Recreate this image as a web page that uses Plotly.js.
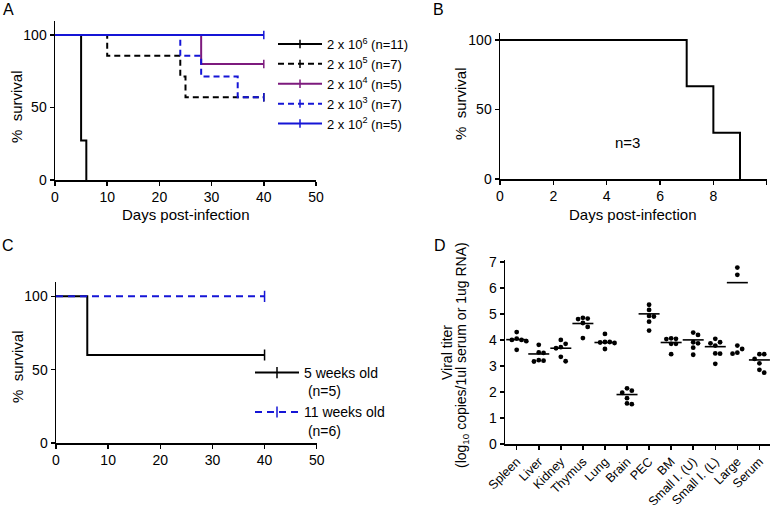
<!DOCTYPE html>
<html>
<head>
<meta charset="utf-8">
<script src="https://cdn.plot.ly/plotly-3.0.1.min.js"></script>
<style>
  html, body { margin: 0; padding: 0; background: #fff; }
  #chart { width: 774px; height: 505px; }
</style>
</head>
<body>
<div id="chart"></div>
<script>
// Data

// A - survival by infectious dose
const doseNames = [
  "2 x 10<sup>6</sup> (n=11)",
  "2 x 10<sup>5</sup> (n=7)",
  "2 x 10<sup>4</sup> (n=5)",
  "2 x 10<sup>3</sup> (n=7)",
  "2 x 10<sup>2</sup> (n=5)",
];
const doseDays = [
  [0, 5, 6],
  [0, 10, 24, 25, 40],
  [0, 28, 40],
  [0, 24, 28, 35, 40],
  [0, 40],
];
const doseSurvival = [
  [100, 27.3, 0],
  [100, 85.7, 71.4, 57.1, 57.1],
  [100, 80, 80],
  [100, 85.7, 71.4, 57.1, 57.1],
  [100, 100],
];
const doseCensorDays = [[], [40], [40], [40], [40]];
const doseCensorSurvival = [[], [57.1], [80], [57.1], [100]];

// B - single group
const daysB = [0, 7, 8, 9];
const survivalB = [100, 66.7, 33.3, 0];

// C - survival by age
const ageNames = ["5 weeks old<br>\u00a0(n=5)", "11 weeks old<br>\u00a0(n=6)"];
const ageDays = [
  [0, 6, 40],
  [0, 40],
];
const ageSurvival = [
  [100, 60, 60],
  [100, 100],
];
const ageCensorDays = [[40], [40]];
const ageCensorSurvival = [[60], [100]];

// D - viral titer per tissue
const tissues = [
  "Spleen", "Liver", "Kidney", "Thymus", "Lung", "Brain",
  "PEC", "BM", "Small I. (U)", "Small I. (L)", "Large", "Serum",
];
const titerValues = [
  [4.3, 4.05, 4.0, 3.95, 4.0, 3.62],
  [3.81, 3.52, 3.5, 3.2, 3.17, 3.22],
  [4.0, 3.85, 3.72, 3.68, 3.35, 3.18],
  [4.85, 4.8, 4.82, 4.65, 4.5, 4.07],
  [4.23, 3.92, 3.9, 3.92, 3.88, 3.65],
  [2.14, 2.05, 1.97, 1.76, 1.56, 1.53],
  [5.35, 5.15, 4.92, 4.9, 4.7, 4.36],
  [4.06, 4.04, 4.03, 3.85, 3.85, 3.45],
  [4.28, 4.19, 3.91, 3.87, 3.7, 3.43],
  [4.04, 3.91, 3.87, 3.78, 3.48, 3.47, 3.08],
  [6.78, 6.5, 3.78, 3.65, 3.51, 3.47],
  [3.45, 3.45, 3.27, 3.1, 2.85, 2.74],
];
const titerLines = [4.01, 3.46, 3.68, 4.63, 3.9, 1.9, 5.0, 3.9, 4.0, 3.74, 6.2, 3.23];

// Styles

const W = 774;
const H = 505;
const FONT = "Liberation Sans, Arial, sans-serif";
const BLUE = "#1515d6";
const PURPLE = "#7d1a7d";

const doseColors = ["#000", "#000", PURPLE, BLUE, BLUE];
const doseDashes = ["solid", "6px,4px", "solid", "6px,4px", "solid"];
const ageColors = ["#000", BLUE];
const ageDashes = ["solid", "7px,5px"];

// pixel -> paper helpers
const px = (x) => x / W;
const py = (y) => 1 - y / H;

const domD = { x: [px(505), px(770)], y: [py(444), py(260)] };
const rangeD = { x: [-0.53, 11.48], y: [0, 7.07] };

// Traces

const survivalTraces = function (names, days, surv, cDays, cSurv, colors, dashes, axes, legend, tickSize) {
  const traces = [];
  names.forEach((name, i) => {
    traces.push({
      x: days[i],
      y: surv[i],
      type: "scatter",
      mode: "lines",
      line: { shape: "hv", color: colors[i], width: 2, dash: dashes[i] },
      xaxis: axes[0],
      yaxis: axes[1],
      showlegend: false,
      hoverinfo: "skip",
    });
    // censor marks, also used as legend entry
    traces.push({
      x: cDays[i].length ? cDays[i] : [null],
      y: cSurv[i].length ? cSurv[i] : [null],
      type: "scatter",
      mode: "lines+markers",
      name: name,
      legend: legend,
      line: { color: colors[i], width: 2, dash: dashes[i] },
      marker: { symbol: "line-ns", size: tickSize, line: { width: 1.5, color: colors[i] } },
      xaxis: axes[0],
      yaxis: axes[1],
      hoverinfo: "skip",
    });
  });
  return traces;
};

// simple beeswarm so dots at similar values sit side by side
const swarmOffsets = function (values, pxPerX, pxPerY, diameter) {
  const order = values.map((v, i) => i).sort((a, b) => values[b] - values[a]);
  const placed = [];
  const offsets = new Array(values.length).fill(0);
  order.forEach((i) => {
    for (let k = 0; k < 40; k++) {
      const cand = (k % 2 ? 1 : -1) * Math.ceil(k / 2) * diameter;
      const hit = placed.some((p) => {
        const dx = cand - p.off;
        const dy = (values[i] - p.v) * pxPerY;
        return Math.hypot(dx, dy) < diameter;
      });
      if (!hit) {
        placed.push({ off: cand, v: values[i] });
        offsets[i] = cand / pxPerX;
        break;
      }
    }
  });
  return offsets;
};

const titerTraces = function () {
  const pxPerX = ((domD.x[1] - domD.x[0]) * W) / (rangeD.x[1] - rangeD.x[0]);
  const pxPerY = ((domD.y[1] - domD.y[0]) * H) / (rangeD.y[1] - rangeD.y[0]);
  const xs = [];
  const ys = [];
  tissues.forEach((t, i) => {
    const offs = swarmOffsets(titerValues[i], pxPerX, pxPerY, 4.8);
    titerValues[i].forEach((v, j) => {
      xs.push(i + offs[j]);
      ys.push(v);
    });
  });
  return [
    {
      x: xs,
      y: ys,
      type: "scatter",
      mode: "markers",
      marker: { color: "#000", size: 4.8 },
      xaxis: "x4",
      yaxis: "y4",
      showlegend: false,
      hoverinfo: "skip",
    },
    {
      x: tissues.map((t, i) => i),
      y: titerLines,
      type: "scatter",
      mode: "markers",
      marker: { symbol: "line-ew", size: 15, line: { width: 1.6, color: "#000" } },
      xaxis: "x4",
      yaxis: "y4",
      showlegend: false,
      hoverinfo: "skip",
    },
  ];
};

const data = [].concat(
  survivalTraces(doseNames, doseDays, doseSurvival, doseCensorDays, doseCensorSurvival,
    doseColors, doseDashes, ["x", "y"], "legend", 6),
  [
    {
      x: daysB,
      y: survivalB,
      type: "scatter",
      mode: "lines",
      line: { shape: "hv", color: "#000", width: 2 },
      xaxis: "x2",
      yaxis: "y2",
      showlegend: false,
      hoverinfo: "skip",
    },
  ],
  survivalTraces(ageNames, ageDays, ageSurvival, ageCensorDays, ageCensorSurvival,
    ageColors, ageDashes, ["x3", "y3"], "legend2", 8),
  titerTraces()
);

// Layout

const baseAxis = {
  showline: true,
  linecolor: "#000",
  linewidth: 1.5,
  ticks: "outside",
  ticklen: 4,
  tickwidth: 1.5,
  tickcolor: "#000",
  showgrid: false,
  zeroline: false,
  fixedrange: true,
  tickfont: { size: 14, color: "#000" },
};

const ann = function (text, x, y, opts) {
  return Object.assign(
    {
      text: text,
      x: px(x),
      y: py(y),
      xref: "paper",
      yref: "paper",
      showarrow: false,
      xanchor: "center",
      yanchor: "middle",
      font: { size: 15, color: "#000" },
    },
    opts || {}
  );
};

const layout = {
  width: W,
  height: H,
  margin: { l: 0, r: 0, t: 0, b: 0 },
  paper_bgcolor: "#fff",
  plot_bgcolor: "rgba(0,0,0,0)",
  font: { family: FONT, color: "#000" },
  showlegend: true,
  xaxis: Object.assign({}, baseAxis, {
    domain: [px(55), px(316)], range: [0, 50], dtick: 10, anchor: "y",
  }),
  yaxis: Object.assign({}, baseAxis, {
    domain: [py(180), py(20.5)], range: [0, 110], tickvals: [0, 50, 100], anchor: "x",
  }),
  xaxis2: Object.assign({}, baseAxis, {
    domain: [px(500), px(766.7)], range: [0, 10], dtick: 2, anchor: "y2",
  }),
  yaxis2: Object.assign({}, baseAxis, {
    domain: [py(179), py(33)], range: [0, 105], tickvals: [0, 50, 100], anchor: "x2",
  }),
  xaxis3: Object.assign({}, baseAxis, {
    domain: [px(56), px(316.7)], range: [0, 50], dtick: 10, anchor: "y3",
  }),
  yaxis3: Object.assign({}, baseAxis, {
    domain: [py(443), py(281.7)], range: [0, 110], tickvals: [0, 50, 100], anchor: "x3",
  }),
  xaxis4: Object.assign({}, baseAxis, {
    domain: domD.x, range: rangeD.x, anchor: "y4",
    tickvals: tissues.map((t, i) => i), ticktext: tissues,
    tickangle: -45, tickfont: { size: 12.5, color: "#000" },
  }),
  yaxis4: Object.assign({}, baseAxis, {
    domain: domD.y, range: rangeD.y, dtick: 1, anchor: "x4",
  }),
  legend: {
    x: px(273), y: py(29), xanchor: "left", yanchor: "top",
    bgcolor: "rgba(0,0,0,0)", font: { size: 13, color: "#000" },
    itemwidth: 44, tracegroupgap: 0,
  },
  legend2: {
    x: px(250), y: py(357), xanchor: "left", yanchor: "top", valign: "top",
    bgcolor: "rgba(0,0,0,0)", font: { size: 14, color: "#000" },
    itemwidth: 44, tracegroupgap: 0,
  },
  annotations: [
    ann("A", 8, 9, { font: { size: 16, color: "#000" } }),
    ann("B", 438, 9, { font: { size: 16, color: "#000" } }),
    ann("C", 8, 245, { font: { size: 16, color: "#000" } }),
    ann("D", 440, 245, { font: { size: 16, color: "#000" } }),
    ann("%\u00a0\u00a0survival", 17, 107, { textangle: -90 }),
    ann("%\u00a0\u00a0survival", 461, 104, { textangle: -90 }),
    ann("%\u00a0\u00a0survival", 17, 367, { textangle: -90 }),
    ann("Days post-infection", 185.5, 215),
    ann("Days post-infection", 633, 215),
    ann("n=3", 627, 142),
    ann("Viral titer", 447, 353, { textangle: -90, font: { size: 14, color: "#000" } }),
    ann("(log<sub>10</sub> copies/1ul serum or 1ug RNA)", 462, 355, {
      textangle: -90, font: { size: 14, color: "#000" },
    }),
  ],
};

Plotly.newPlot("chart", data, layout, {
  displayModeBar: false,
  staticPlot: true,
});
</script>
</body>
</html>
